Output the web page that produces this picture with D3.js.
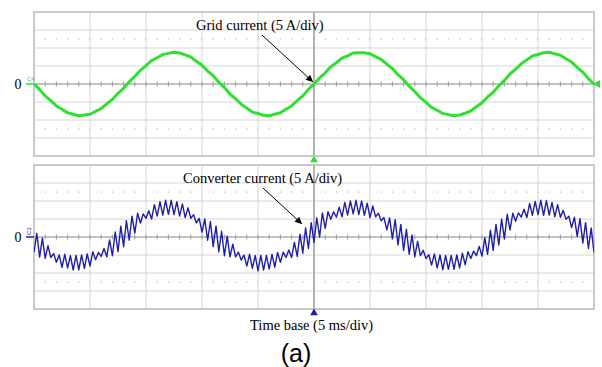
<!DOCTYPE html>
<html>
<head>
<meta charset="utf-8">
<script src="https://cdn.jsdelivr.net/npm/d3@7"></script>
<style>
  body { margin: 0; background: #fff; }
  svg { display: block; }
</style>
</head>
<body>
<svg id="chart" width="602" height="367"></svg>
<script>
// scope settings: 5 ms/div, 5 A/div, 10 x 8 divisions
const sampleMs = 0.5;
const timeDivs = [0, 5, 10, 15, 20, 25, 30, 35, 40, 45, 50];
const ampDivs = [-20, -15, -10, -5, 0, 5, 10, 15, 20];
const cursorRowsA = [-12.5, 12.5];

// grid current, read every 0.5 ms (A)
const gridCurrentA = [
  0, -1.5, -3.3, -4.6, -6.1, -7.0, -8.0, -8.4, -8.8, -8.6,
  -8.4, -7.6, -6.8, -5.5, -4.3, -2.6, -1.2, 0.6, 2.1, 3.8,
  5.1, 6.5, 7.3, 8.2, 8.5, 8.8, 8.6, 8.1, 7.5, 6.3,
  5.2, 3.6, 2.3, 0.5, -1.0, -2.8, -4.1, -5.6, -6.7, -7.8,
  -8.2, -8.7, -8.8, -8.4, -8.0, -7.0, -6.1, -4.6, -3.3, -1.5,
  0,
  1.7, 3.1, 4.8, 5.9, 7.2, 7.8, 8.6, 8.7, 8.7, 8.4,
  7.6, 6.8, 5.5, 4.3, 2.6, 1.2, -0.6, -2.1, -3.8, -5.1,
  -6.5, -7.3, -8.2, -8.5, -8.8, -8.6, -8.1, -7.5, -6.3, -5.2,
  -3.6, -2.3, -0.5, 1.0, 2.8, 4.1, 5.6, 6.7, 7.8, 8.2,
  8.7, 8.8, 8.4, 8.0, 7.0, 6.1, 4.6, 3.3, 1.5, 0
];

// converter current: bottom of each ripple tooth (every 0.5 ms)
const convTroughA = [
  -4.3, -5.6, -5.9, -5.7, -7.0, -8.4, -8.6, -9.2, -9.1, -8.7,
  -8.1, -6.3, -5.4, -5.5, -5.2, -4.1, -2.7, -0.9, 1.1, 3.9,
  5.2, 5.0, 5.8, 6.1, 6.3, 6.2, 5.8, 5.4, 5.2, 3.9,
  1.3, -0.9, -2.7, -4.1, -5.2, -5.5, -5.5, -6.4, -8.1, -8.7,
  -9.4, -9.2, -8.9, -8.4, -7.0, -5.7, -5.7, -5.4, -4.5, -3.2,
  -1.5, 0.0, 2.4, 4.9, 5.5, 5.6, 6.1, 6.4, 6.2, 6.0,
  5.4, 5.6, 4.5, 2.0, -0.5, -2.2, -3.7, -4.8, -5.5, -5.2,
  -6.0, -7.8, -8.6, -9.1, -9.0, -9.0, -8.6, -7.7, -6.0, -5.2,
  -5.3, -4.8, -3.7, -2.2, -0.5, 2.0, 4.4, 5.5, 5.4, 6.0,
  6.2, 6.0, 6.1, 5.6, 5.5, 4.9, 2.6, 0.2, -1.7, -3.2,
  -4.3
];

// converter current: top of each ripple tooth (0.25 ms after each trough)
const convPeakA = [
  1.0, -0.3, -2.4, -4.6, -5.0, -4.8, -5.2, -5.1, -5.0, -4.7,
  -4.1, -4.3, -3.2, -0.8, 1.4, 3.0, 4.5, 5.8, 6.6, 6.4,
  7.3, 9.0, 9.8, 10.2, 10.2, 9.8, 9.2, 8.1, 6.2, 5.2,
  5.0, 4.3, 3.0, 1.6, 0.2, -2.0, -4.2, -5.0, -4.8, -5.1,
  -5.1, -5.1, -4.8, -4.3, -4.2, -3.6, -1.5, 0.8, 2.5, 4.0,
  5.3, 6.7, 7.0, 7.0, 8.3, 9.6, 10.0, 10.2, 10.0, 9.4,
  8.6, 6.6, 5.4, 5.3, 4.8, 3.5, 2.1, 0.6, -1.2, -3.7,
  -4.9, -4.7, -5.0, -5.1, -5.1, -5.0, -4.5, -4.1, -3.9, -2.6,
  -0.2, 1.9, 3.5, 5.0, 6.3, 6.6, 6.7, 7.7, 9.3, 9.9,
  10.2, 10.1, 9.6, 9.0, 7.4, 5.8, 5.5, 5.1, 4.0, 2.5
];

const gridPoints = gridCurrentA.map((v, i) => ({ t: i * sampleMs, v: v }));
const convPoints = [];
convTroughA.forEach((v, i) => {
  convPoints.push({ t: i * sampleMs, v: v });
  if (i < convPeakA.length) convPoints.push({ t: i * sampleMs + sampleMs / 2, v: convPeakA[i] });
});

const svg = d3.select("#chart");
svg.append("rect").attr("width", 602).attr("height", 367).attr("fill", "#fff");

const x = d3.scaleLinear().domain([0, 50]).range([34, 594]);

const panels = [
  { top: 12, color: "#30e030", width: 3, data: gridPoints, ch: "C4",
    label: "Grid current (5 A/div)", lx: 196, ly: 30, arrow: [262, 35, 313, 82] },
  { top: 165, color: "#1e1eaa", width: 1.4, data: convPoints, ch: "C3",
    label: "Converter current (5 A/div)", lx: 183, ly: 183, arrow: [263, 188, 302, 224] }
];

const defs = svg.append("defs");
defs.append("marker")
  .attr("id", "arrow")
  .attr("viewBox", "0 0 10 10")
  .attr("refX", 10).attr("refY", 5)
  .attr("markerUnits", "userSpaceOnUse")
  .attr("markerWidth", 9).attr("markerHeight", 7)
  .attr("orient", "auto")
  .append("path").attr("d", "M0,0 L10,5 L0,10 z").attr("fill", "#000");

panels.forEach((p, idx) => {
  const y = d3.scaleLinear().domain([-20, 20]).range([p.top + 144, p.top]);
  const g = svg.append("g");

  defs.append("clipPath").attr("id", "clip" + idx)
    .append("rect").attr("x", x(0)).attr("y", y(20)).attr("width", x(50) - x(0)).attr("height", y(-20) - y(20));

  // grid
  g.selectAll("line.v").data(timeDivs).join("line")
    .attr("x1", d => x(d)).attr("x2", d => x(d))
    .attr("y1", y(20)).attr("y2", y(-20))
    .attr("stroke", "#d6d6d6").attr("stroke-width", 1);
  g.selectAll("line.h").data(ampDivs).join("line")
    .attr("x1", x(0)).attr("x2", x(50))
    .attr("y1", d => y(d)).attr("y2", d => y(d))
    .attr("stroke", "#d6d6d6").attr("stroke-width", 1);

  // cursor dots
  cursorRowsA.forEach(a => {
    g.selectAll(null).data(d3.range(1, 50, 1)).join("rect")
      .attr("x", d => x(d) - 0.6).attr("y", y(a) - 0.6)
      .attr("width", 1.3).attr("height", 1.3)
      .attr("fill", "#c4c4c4");
  });

  // centre axes
  g.append("line")
    .attr("x1", x(0)).attr("x2", x(50)).attr("y1", y(0)).attr("y2", y(0))
    .attr("stroke", "#9c9c9c").attr("stroke-width", 1.2);
  g.selectAll(null).data(d3.range(1, 50, 1)).join("line")
    .attr("x1", d => x(d)).attr("x2", d => x(d))
    .attr("y1", y(0) - 2.5).attr("y2", y(0) + 2.5)
    .attr("stroke", "#9c9c9c").attr("stroke-width", 1);
  g.append("line")
    .attr("x1", x(25)).attr("x2", x(25)).attr("y1", y(20)).attr("y2", y(-20))
    .attr("stroke", "#a4a4a4").attr("stroke-width", 1.6);

  g.append("rect")
    .attr("x", x(0)).attr("y", y(20)).attr("width", x(50) - x(0)).attr("height", y(-20) - y(20))
    .attr("fill", "none").attr("stroke", "#c2c2c2").attr("stroke-width", 1.6);

  // trace
  const line = d3.line().x(d => x(d.t)).y(d => y(d.v));
  g.append("path")
    .datum(p.data)
    .attr("clip-path", "url(#clip" + idx + ")")
    .attr("d", line)
    .attr("fill", "none")
    .attr("stroke", p.color)
    .attr("stroke-width", p.width)
    .attr("stroke-linejoin", "round");

  // zero label and channel marker
  g.append("text").attr("x", 18).attr("y", y(0) + 5)
    .attr("text-anchor", "middle")
    .style("font-family", "'Liberation Serif', 'Times New Roman', serif")
    .style("font-size", "14px")
    .text("0");
  g.append("line").attr("x1", 26).attr("x2", x(0)).attr("y1", y(0)).attr("y2", y(0))
    .attr("stroke", p.color).attr("stroke-width", 1.5);
  if (idx === 0) {
    g.append("text").attr("x", 27).attr("y", y(0) - 3)
      .attr("fill", p.color).style("font-family", "'Liberation Sans', sans-serif").style("font-size", "6px")
      .text(p.ch);
  } else {
    g.append("text").attr("transform", "translate(31," + (y(0) - 2) + ") rotate(-90)")
      .attr("fill", p.color).style("font-family", "'Liberation Sans', sans-serif").style("font-size", "6px")
      .text(p.ch);
  }

  // annotation
  g.append("text").attr("x", p.lx).attr("y", p.ly)
    .style("font-family", "'Liberation Serif', 'Times New Roman', serif")
    .style("font-size", "14.5px")
    .text(p.label);
  g.append("line")
    .attr("x1", p.arrow[0]).attr("y1", p.arrow[1]).attr("x2", p.arrow[2]).attr("y2", p.arrow[3])
    .attr("stroke", "#000").attr("stroke-width", 1)
    .attr("marker-end", "url(#arrow)");

  // trigger marker below panel
  svg.append("path")
    .attr("d", d3.symbol(d3.symbolTriangle).size(26))
    .attr("transform", "translate(" + x(25) + "," + (y(-20) + 4) + ")")
    .attr("fill", p.color);
});

// level marker at right of top trace
svg.append("path").attr("d", "M593,84 L600,80 L600,88 Z").attr("fill", "#30e030");

svg.append("text").attr("x", 250).attr("y", 330)
  .style("font-family", "'Liberation Serif', 'Times New Roman', serif")
  .style("font-size", "14.5px")
  .text("Time base (5 ms/div)");

svg.append("text").attr("x", 296).attr("y", 362)
  .attr("text-anchor", "middle")
  .style("font-family", "'Liberation Sans', Arial, sans-serif")
  .style("font-size", "25px")
  .text("(a)");
</script>
</body>
</html>
